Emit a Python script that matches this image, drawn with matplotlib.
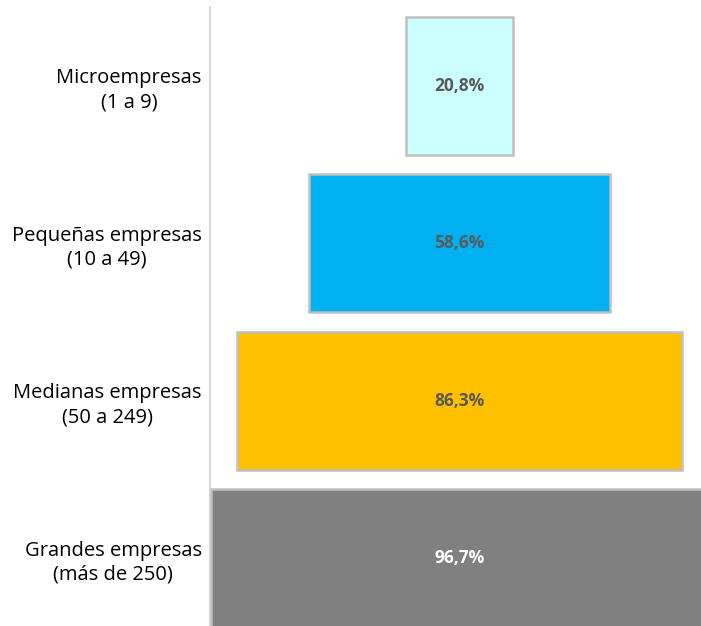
import matplotlib
matplotlib.use("Agg")
import matplotlib.pyplot as plt

categories = ["Microempresas\n(1 a 9)", "Pequeñas empresas\n(10 a 49)",
              "Medianas empresas\n(50 a 249)", "Grandes empresas\n(más de 250)"]
values = [20.8, 58.6, 86.3, 96.7]
labels = ["20,8%", "58,6%", "86,3%", "96,7%"]
colors = ["#CCFFFF", "#00B0F0", "#FFC000", "#808080"]
label_colors = ["#595959", "#595959", "#595959", "#FFFFFF"]

plt.rcParams['font.family'] = ['Open Sans', 'DejaVu Sans']

fig = plt.figure(figsize=(7.01, 6.26), dpi=100)
ax = fig.add_axes([210/701, 0, 1 - 210/701, (626 - 7) / 626])

y = list(range(len(values)))
lefts = [-v / 2 for v in values]
ax.barh(y, values, left=lefts, height=0.876, color=colors,
        edgecolor="#BFBFBF", linewidth=1.8, zorder=2)
for yi, v, lab, lc in zip(y, values, labels, label_colors):
    ax.text(0, yi, lab, ha="center", va="center", fontsize=12.5,
            fontweight="bold", color=lc, zorder=3)

ax.set_xlim(-48.45, 46.9)
ax.set_ylim(3.43, -0.5)
ax.set_yticks(y)
ax.set_yticklabels(categories, fontsize=14.5, color="#000000",
                   multialignment="center", linespacing=1.25)
ax.tick_params(axis="y", length=0, pad=6)
ax.set_xticks([])
for s in ["top", "right", "bottom"]:
    ax.spines[s].set_visible(False)
ax.spines["left"].set_color("#D9D9D9")
ax.spines["left"].set_linewidth(1.5)
ax.spines["left"].set_zorder(1)

fig.savefig("out.png", dpi=100)
